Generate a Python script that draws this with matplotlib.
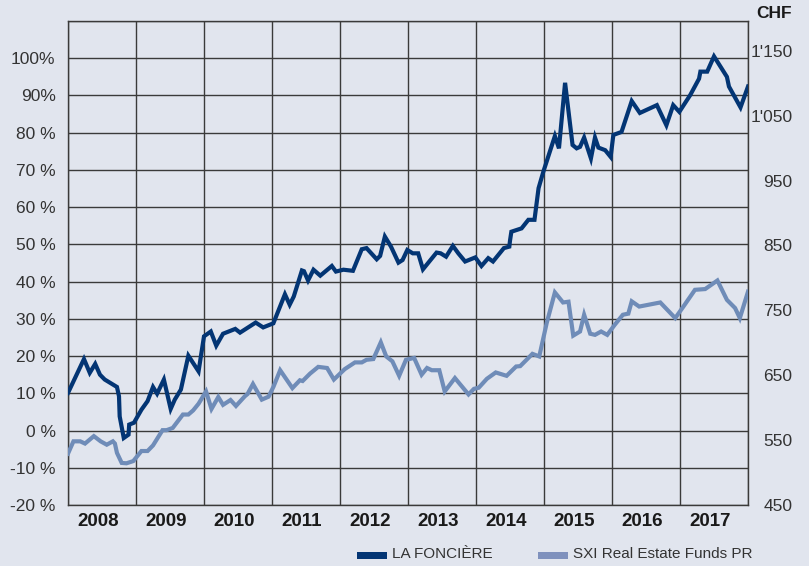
import matplotlib
matplotlib.use("Agg")
import matplotlib.pyplot as plt
from matplotlib.patches import Rectangle

plt.rcParams['font.family'] = ['Liberation Sans', 'DejaVu Sans']

# ---- data (fractional year, performance in %) ----
lf_dates = [2008.00, 2008.235, 2008.32, 2008.40, 2008.47, 2008.54, 2008.72, 2008.75, 2008.76, 2008.82,
            2008.89, 2008.90, 2008.97, 2009.08, 2009.17, 2009.25, 2009.31, 2009.41, 2009.51, 2009.57,
            2009.66, 2009.77, 2009.92, 2010.00, 2010.10, 2010.18, 2010.28, 2010.46, 2010.53, 2010.76,
            2010.87, 2011.02, 2011.19, 2011.26, 2011.32, 2011.44, 2011.47, 2011.53, 2011.61, 2011.71,
            2011.88, 2011.94, 2012.05, 2012.19, 2012.32, 2012.39, 2012.54, 2012.59, 2012.66, 2012.75,
            2012.86, 2012.92, 2012.99, 2013.07, 2013.15, 2013.22, 2013.42, 2013.48, 2013.56, 2013.66,
            2013.74, 2013.84, 2013.99, 2014.08, 2014.18, 2014.25, 2014.41, 2014.49, 2014.50, 2014.52,
            2014.67, 2014.77, 2014.86, 2014.92, 2014.99, 2015.16, 2015.22, 2015.31, 2015.42, 2015.48,
            2015.53, 2015.59, 2015.69, 2015.75, 2015.80, 2015.90, 2015.98, 2016.02, 2016.14, 2016.29,
            2016.41, 2016.66, 2016.80, 2016.90, 2016.99, 2017.15, 2017.28, 2017.30, 2017.40, 2017.50,
            2017.69, 2017.72, 2017.89, 2018.00]
lf_pct = [10.1, 19.2, 15.5, 17.9, 15.0, 13.7, 11.7, 9.2, 3.8, -2.0,
          -1.1, 1.6, 2.1, 5.6, 7.9, 11.7, 9.9, 13.7, 5.8, 8.3,
          11.0, 20.1, 15.9, 25.3, 26.6, 22.8, 26.0, 27.3, 26.3, 29.0,
          27.7, 28.8, 36.6, 33.8, 36.0, 43.0, 42.8, 40.3, 43.2, 41.6,
          44.2, 42.7, 43.2, 42.9, 48.7, 49.0, 46.0, 46.9, 52.1, 49.4,
          45.1, 45.8, 48.5, 47.6, 47.6, 43.3, 47.8, 47.6, 46.7, 49.6,
          47.6, 45.4, 46.5, 44.2, 46.3, 45.4, 49.0, 49.4, 51.0, 53.4,
          54.3, 56.6, 56.6, 65.1, 69.5, 79.1, 75.8, 93.4, 76.7, 75.8,
          76.2, 78.7, 73.1, 78.7, 76.0, 75.3, 73.5, 79.4, 80.2, 88.5,
          85.3, 87.4, 82.0, 87.4, 85.6, 90.1, 94.5, 96.4, 96.4, 100.5,
          95.0, 92.4, 86.8, 92.4]

sxi_dates = [2008.00, 2008.08, 2008.18, 2008.25, 2008.38, 2008.48, 2008.57, 2008.66, 2008.69, 2008.72,
             2008.79, 2008.86, 2008.96, 2009.08, 2009.17, 2009.25, 2009.39, 2009.45, 2009.54, 2009.69,
             2009.77, 2009.84, 2009.92, 2010.03, 2010.11, 2010.21, 2010.28, 2010.39, 2010.47, 2010.60,
             2010.64, 2010.72, 2010.85, 2010.95, 2011.02, 2011.12, 2011.30, 2011.41, 2011.45, 2011.56,
             2011.68, 2011.81, 2011.91, 2012.07, 2012.22, 2012.32, 2012.39, 2012.49, 2012.60, 2012.68,
             2012.77, 2012.87, 2012.97, 2013.09, 2013.20, 2013.28, 2013.35, 2013.46, 2013.54, 2013.69,
             2013.89, 2013.97, 2014.04, 2014.16, 2014.29, 2014.45, 2014.59, 2014.65, 2014.83, 2014.93,
             2015.04, 2015.16, 2015.28, 2015.36, 2015.43, 2015.53, 2015.59, 2015.68, 2015.75, 2015.84,
             2015.93, 2016.04, 2016.16, 2016.24, 2016.29, 2016.40, 2016.71, 2016.93, 2017.05, 2017.22,
             2017.37, 2017.55, 2017.69, 2017.81, 2017.88, 2018.00]
sxi_pct = [-6.2, -2.9, -2.9, -3.5, -1.5, -2.9, -3.8, -2.9, -3.5, -6.0,
           -8.7, -8.8, -8.2, -5.5, -5.5, -4.0, 0.1, 0.1, 0.7, 4.3,
           4.3, 5.4, 7.2, 10.5, 5.8, 9.0, 6.9, 8.2, 6.6, 9.2,
           9.8, 12.5, 8.3, 9.1, 11.7, 16.2, 11.4, 13.5, 13.3, 15.3,
           17.1, 16.8, 13.7, 16.5, 18.3, 18.3, 19.0, 19.2, 23.7, 19.9,
           18.6, 14.7, 19.0, 19.5, 15.0, 16.8, 16.2, 16.2, 10.5, 14.1,
           9.7, 11.2, 11.5, 13.9, 15.6, 14.7, 17.2, 17.3, 20.6, 19.9,
           28.9, 37.1, 34.4, 34.6, 25.5, 26.6, 31.1, 26.0, 25.7, 26.6,
           25.7, 28.4, 31.1, 31.4, 34.7, 33.3, 34.4, 30.2, 33.3, 37.8,
           38.0, 40.3, 35.1, 32.9, 30.2, 37.3]

years = [2008, 2009, 2010, 2011, 2012, 2013, 2014, 2015, 2016, 2017]
pct_ticks = [-20, -10, 0, 10, 20, 30, 40, 50, 60, 70, 80, 90, 100]
pct_labels = ['-20 %', '-10 %', '0 %', '10 %', '20 %', '30 %', '40 %', '50 %', '60 %',
              '70 %', '80 %', '90%', '100%']
chf_ticks = [450, 550, 650, 750, 850, 950, 1050, 1150]
chf_labels = ['450', '550', '650', '750', '850', '950', "1'050", "1'150"]
series_names = ['LA FONCIÈRE', 'SXI Real Estate Funds PR']

# ---- style ----
BG = '#E1E5EE'
DARK = '#033574'
LIGHT = '#6F8CB8'
LEG_LIGHT = '#7F91BD'
GRID = '#3A3A3A'
TXT = '#333333'

W, H = 809, 566
fig = plt.figure(figsize=(W / 100, H / 100), dpi=100, facecolor=BG)
ax = fig.add_axes([68 / W, 1 - 505 / H, (748 - 68) / W, (505 - 21) / H])
ax.set_facecolor(BG)

ax.plot(lf_dates, lf_pct, color=DARK, lw=3.0, solid_joinstyle='miter', zorder=4)
ax.plot(sxi_dates, sxi_pct, color=LIGHT, lw=3.0, solid_joinstyle='miter', zorder=3)

ax.set_xlim(2008, 2018)
ax.set_ylim(-20, 110)

# year boundaries (minor) and labels near year centres (major)
ax.set_xticks(list(range(2008, 2019)), minor=True)
ax.set_xticks([y + 0.44 for y in years])
ax.set_xticklabels([str(y) for y in years], fontsize=13.5, fontweight='bold', color='#1a1a1a')
ax.tick_params(axis='x', which='both', length=0, pad=6)
ax.grid(which='minor', axis='x', color=GRID, lw=1.0)

ax.set_yticks(pct_ticks + [110])
ax.set_yticklabels(pct_labels + [''], fontsize=12.5, color=TXT)
ax.tick_params(axis='y', length=0, pad=9)
ax.grid(which='major', axis='y', color=GRID, lw=1.0)
ax.set_axisbelow(True)

for s in ax.spines.values():
    s.set_color(GRID)
    s.set_linewidth(1.0)

# right axis in CHF
ax2 = ax.twinx()
ax2.set_ylim(450, 1196)
ax2.set_yticks(chf_ticks)
ax2.set_yticklabels(chf_labels, fontsize=12.5, color=TXT)
ax2.tick_params(axis='y', length=0, pad=32)
for lab in ax2.get_yticklabels():
    lab.set_horizontalalignment('right')
for s in ax2.spines.values():
    s.set_visible(False)

fig.text(792 / W, 1 - 13 / H, 'CHF', ha='right', va='center', fontsize=12.5,
         fontweight='bold', color='#1a1a1a')

# legend
fig.add_artist(Rectangle((357 / W, 1 - 559 / H), 30 / W, 7 / H, transform=fig.transFigure,
                         facecolor=DARK, edgecolor='none'))
fig.text(392 / W, 1 - 554 / H, series_names[0], ha='left', va='center', fontsize=11, color=TXT)
fig.add_artist(Rectangle((538 / W, 1 - 559 / H), 30 / W, 7 / H, transform=fig.transFigure,
                         facecolor=LEG_LIGHT, edgecolor='none'))
fig.text(573 / W, 1 - 554 / H, series_names[1], ha='left', va='center', fontsize=11, color=TXT)

fig.savefig('out.png', dpi=100, facecolor=BG)
